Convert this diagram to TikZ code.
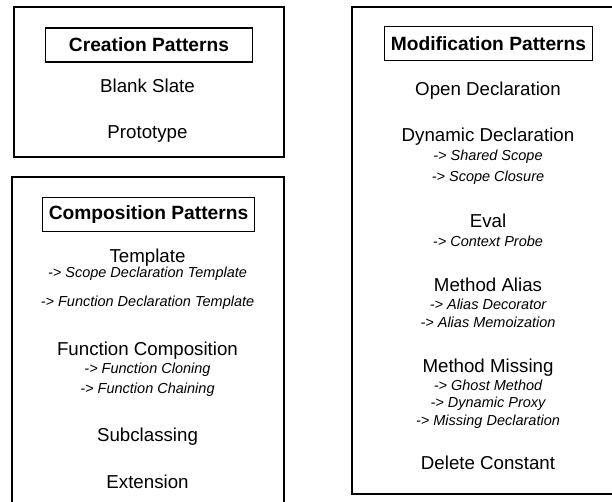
\documentclass[tikz,border=0pt]{standalone}
\usepackage{fontspec}
\setmainfont{Liberation Sans}
\usepackage{xcolor}

\tikzset{
  group/.style={line width=1.5pt},
  heading/.style={draw,line width=1.2pt,minimum width=207pt,minimum height=34pt,
    inner xsep=6pt,font=\fontsize{19.2}{22}\selectfont\bfseries},
  pattern/.style={anchor=base,inner sep=0pt,font=\fontsize{18.7}{22}\selectfont},
  variant/.style={anchor=base,inner sep=0pt,font=\fontsize{14.5}{17}\selectfont\itshape}
}

\begin{document}
\begin{tikzpicture}[x=1pt,y=-1pt]
\useasboundingbox (0,0) rectangle (612,502);
\clip (0,0) rectangle (612,502);
\draw[group] (14,7) rectangle (284,157);
\draw[group] (12,177) rectangle (284,515);
\draw[group] (352,7) rectangle (625,494);

\node[heading] (creation) at (149,45) {Creation Patterns};
\node[pattern] (blank) at (147.5,93) {Blank Slate};
\node[pattern] (proto) at (147.5,139) {Prototype};

\node[heading] (composition) at (148.5,214.5) {Composition Patterns};
\node[pattern] (template) at (147.5,262) {Template};
\node[variant] (scopetpl) at (147.5,277.5) {-> Scope Declaration Template};
\node[variant] (functpl) at (147.5,306) {-> Function Declaration Template};
\node[pattern] (funccomp) at (147.5,355) {Function Composition};
\node[variant] (cloning) at (147.5,373) {-> Function Cloning};
\node[variant] (chaining) at (147.5,393.5) {-> Function Chaining};
\node[pattern] (subclass) at (147.5,441) {Subclassing};
\node[pattern] (extension) at (147.5,488.5) {Extension};

\node[heading] (modification) at (488.5,43.5) {Modification Patterns};
\node[pattern] (opendecl) at (488,95.5) {Open Declaration};
\node[pattern] (dyndecl) at (488,142) {Dynamic Declaration};
\node[variant] (shared) at (488,161) {-> Shared Scope};
\node[variant] (closure) at (488,181.5) {-> Scope Closure};
\node[pattern] (eval) at (488,227.5) {Eval};
\node[variant] (probe) at (488,246.5) {-> Context Probe};
\node[pattern] (alias) at (488,291) {Method Alias};
\node[variant] (decorator) at (488,309) {-> Alias Decorator};
\node[variant] (memo) at (488,327) {-> Alias Memoization};
\node[pattern] (missing) at (488,372) {Method Missing};
\node[variant] (ghost) at (488,390) {-> Ghost Method};
\node[variant] (proxy) at (488,407.5) {-> Dynamic Proxy};
\node[variant] (missdecl) at (488,425) {-> Missing Declaration};
\node[pattern] (delconst) at (488,469) {Delete Constant};
\end{tikzpicture}
\end{document}
